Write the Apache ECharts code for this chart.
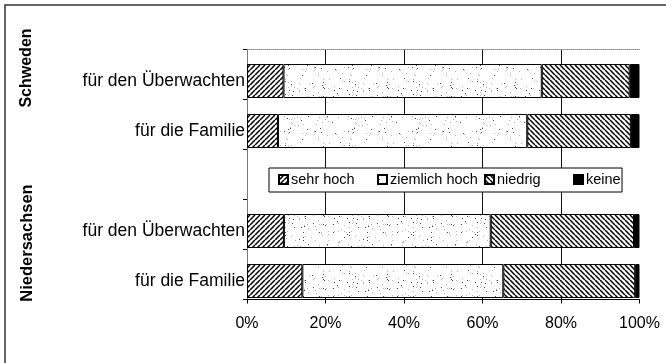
<!DOCTYPE html>
<html>
<head>
<meta charset="utf-8">
<script src="https://cdn.jsdelivr.net/npm/echarts@6/dist/echarts.min.js"></script>
<style>
  html, body { margin: 0; padding: 0; background: #fff; }
  #chart { width: 666px; height: 363px; }
</style>
</head>
<body>
<div id="chart"></div>
<script>
// Rows from top to bottom; the empty slot separates the two regions.
const categories = ['für den Überwachten', 'für die Familie', '', 'für den Überwachten', 'für die Familie'];
const groups = ['Schweden', 'Niedersachsen'];
const seriesNames = ['sehr hoch', 'ziemlich hoch', 'niedrig', 'keine'];
const sehrHoch     = [9.3, 7.9, null, 9.4, 14.1];
const ziemlichHoch = [65.8, 63.5, null, 52.7, 51.2];
const niedrig      = [22.4, 26.4, null, 36.5, 33.6];
const keine        = [2.5, 2.2, null, 1.4, 1.1];
const xTicks = [0, 20, 40, 60, 80, 100];

// ---- fill patterns ----
function hatch(forward) {
  const n = 5;
  const c = document.createElement('canvas');
  c.width = n; c.height = n;
  const g = c.getContext('2d');
  g.fillStyle = '#fff'; g.fillRect(0, 0, n, n);
  g.strokeStyle = '#000'; g.lineWidth = 1.5;
  g.beginPath();
  for (let k = -1; k <= 1; k++) {
    if (forward) { g.moveTo(k * n, n); g.lineTo(k * n + n, 0); }
    else { g.moveTo(k * n, 0); g.lineTo(k * n + n, n); }
  }
  g.stroke();
  return { image: c, repeat: 'repeat' };
}
// speckled grey texture from an integer hash of the pixel position
function stipple() {
  const n = 64;
  const c = document.createElement('canvas');
  c.width = n; c.height = n;
  const g = c.getContext('2d');
  g.fillStyle = '#fff'; g.fillRect(0, 0, n, n);
  for (let y = 0; y < n; y++) {
    for (let x = 0; x < n; x++) {
      let h = (x * 374761393 + y * 668265263) >>> 0;
      h = ((h ^ (h >>> 13)) * 1274126177) >>> 0;
      h = (h ^ (h >>> 16)) >>> 0;
      const r = h % 1000;
      if (r < 35) {
        g.fillStyle = r < 12 ? 'rgba(40,40,40,0.85)' : 'rgba(130,130,130,0.6)';
        g.fillRect(x, y, 1, 1);
      }
    }
  }
  return { image: c, repeat: 'repeat' };
}
const fills = [hatch(true), stipple(), hatch(false), '#000'];
const values = [sehrHoch, ziemlichHoch, niedrig, keine];

const chart = echarts.init(document.getElementById('chart'), null, { renderer: 'canvas' });

const gridLeft = 247, gridRight = 26.5, gridHeight = 250;
const legendIconX = [278, 377, 484, 573];
const font = 'Arial, "Liberation Sans", sans-serif';

const option = {
  backgroundColor: '#fff',
  animation: false,
  textStyle: { fontFamily: font, color: '#000' },
  grid: [
    { left: gridLeft, right: gridRight, top: 49.5, height: gridHeight },
    { left: gridLeft, right: gridRight, top: 56, height: gridHeight }
  ],
  xAxis: [
    {
      gridIndex: 0, type: 'value', min: xTicks[0], max: xTicks[xTicks.length - 1], interval: 20,
      axisLine: { show: true, lineStyle: { color: '#000', width: 1 } },
      axisTick: { show: true, length: 4, lineStyle: { color: '#000' } },
      axisLabel: { formatter: '{value}%', fontSize: 16, color: '#000', margin: 16 },
      splitLine: { show: true, showMinLine: false, showMaxLine: false, lineStyle: { color: '#111', width: 1 } }
    },
    {
      gridIndex: 0, type: 'value', position: 'top', min: 0, max: 100,
      axisLine: { show: true, lineStyle: { color: '#888', type: 'dotted' } },
      axisTick: { show: false }, axisLabel: { show: false }, splitLine: { show: false }
    },
    {
      gridIndex: 1, type: 'value', min: 0, max: 100, show: false
    }
  ],
  yAxis: [
    {
      gridIndex: 0, type: 'category', data: categories, inverse: true,
      axisLine: { show: true, lineStyle: { color: '#000', width: 1 } },
      axisTick: { show: true, length: 4, lineStyle: { color: '#000' } },
      axisLabel: { show: false }
    },
    {
      gridIndex: 0, type: 'category', data: categories, inverse: true, position: 'right',
      axisLine: { show: true, lineStyle: { color: '#888', type: 'dotted' } },
      axisTick: { show: false }, axisLabel: { show: false }
    },
    {
      gridIndex: 1, type: 'category', data: categories, inverse: true,
      axisLine: { show: false }, axisTick: { show: false },
      axisLabel: { fontSize: 17.5, color: '#000', margin: 2 }
    }
  ],
  legend: seriesNames.map((name, i) => ({
    data: [name],
    left: legendIconX[i], top: 172,
    padding: 0,
    icon: 'rect', itemWidth: 9, itemHeight: 9,
    textStyle: { fontSize: 14.5, color: '#000', padding: [0, 0, 0, -2] },
    z: 12,
    selectedMode: false
  })),
  graphic: [
    {
      type: 'rect', z: 10,
      shape: { x: 269, y: 168, width: 353, height: 24 },
      style: { fill: '#fff', stroke: '#000', lineWidth: 1 }
    },
    {
      type: 'polyline', z: 10,
      shape: { points: [[5, 400], [5, 5], [700, 5]] },
      style: { fill: null, stroke: '#333', lineWidth: 1.5 }
    },
    {
      type: 'text', z: 10,
      x: 27, y: 68, rotation: Math.PI / 2,
      style: { text: groups[0], fontSize: 16, fontWeight: 'bold', fill: '#000',
               align: 'center', verticalAlign: 'middle', fontFamily: font }
    },
    {
      type: 'text', z: 10,
      x: 27, y: 243, rotation: Math.PI / 2,
      style: { text: groups[1], fontSize: 16.5, fontWeight: 'bold', fill: '#000',
               align: 'center', verticalAlign: 'middle', fontFamily: font }
    }
  ],
  series: seriesNames.map((name, i) => ({
    name: name,
    type: 'bar',
    stack: 'total',
    xAxisIndex: 2,
    yAxisIndex: 2,
    barWidth: 34,
    data: values[i],
    itemStyle: { color: fills[i], borderColor: '#000', borderWidth: 1 }
  }))
};

chart.setOption(option);
</script>
</body>
</html>
